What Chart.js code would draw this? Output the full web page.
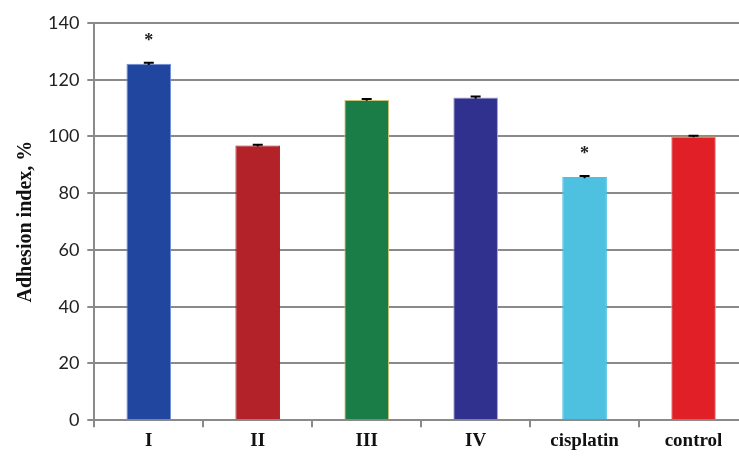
<!DOCTYPE html>
<html><head><meta charset="utf-8">
<script src="https://cdn.jsdelivr.net/npm/chart.js@4/dist/chart.umd.min.js"></script>
<style>html,body{margin:0;padding:0;overflow:hidden;background:#fff}#wrap{width:750px;height:464px}</style>
</head><body>
<div id="wrap"><canvas id="c" width="750" height="464"></canvas></div>
<script>
const categories = ['I', 'II', 'III', 'IV', 'cisplatin', 'control'];
const values = [125.6, 96.8, 112.9, 113.7, 85.7, 100.0];
const errors = [0.4, 0.3, 0.3, 0.4, 0.4, 0.3];
const marks = ['*', '', '', '', '*', ''];
const yTicks = [0, 20, 40, 60, 80, 100, 120, 140];
const colors = ['#2146a0', '#b22228', '#1a7c46', '#30308f', '#4dc1df', '#e01f27'];
const borderColors = ['#6f8fd8', '#a01c22', '#c9c27a', '#a89ad0', '#4dc1df', '#f0a030'];

const extras = {
  id: 'extras',
  afterDatasetsDraw(chart) {
    const ctx = chart.ctx;
    const y = chart.scales.y;
    const meta = chart.getDatasetMeta(0);
    ctx.save();
    meta.data.forEach((bar, i) => {
      const x = bar.x;
      const yHi = y.getPixelForValue(values[i] + errors[i]);
      const yLo = y.getPixelForValue(values[i] - errors[i]);
      ctx.strokeStyle = '#000';
      ctx.lineWidth = 2;
      ctx.beginPath();
      ctx.moveTo(x, yHi); ctx.lineTo(x, yLo);
      ctx.moveTo(x - 5, yHi); ctx.lineTo(x + 5, yHi);
      ctx.stroke();
      if (marks[i]) {
        ctx.fillStyle = '#222';
        ctx.font = 'bold 18px "Liberation Serif"';
        ctx.textAlign = 'center';
        ctx.textBaseline = 'middle';
        ctx.fillText(marks[i], x, y.getPixelForValue(values[i]) - 23);
      }
    });
    ctx.restore();
  }
};

new Chart(document.getElementById('c'), {
  type: 'bar',
  data: {
    labels: categories,
    datasets: [{
      data: values,
      backgroundColor: colors,
      borderColor: borderColors,
      borderWidth: 1,
      barPercentage: 0.41,
      categoryPercentage: 1.0
    }]
  },
  options: {
    responsive: false,
    animation: false,
    devicePixelRatio: 1,
    layout: { padding: { left: 14, right: 2, top: 23, bottom: 10 } },
    plugins: { legend: { display: false }, tooltip: { enabled: false } },
    scales: {
      x: {
        grid: { display: true, drawOnChartArea: false, drawTicks: true, tickLength: 7, color: '#8a8a8a', lineWidth: 2, offset: true },
        border: { display: true, color: '#8a8a8a', width: 2 },
        ticks: { color: '#111', font: { family: '"Liberation Serif"', size: 19, weight: 'bold' }, padding: 2 }
      },
      y: {
        min: 0, max: 140,
        afterBuildTicks(axis) { axis.ticks = yTicks.map(v => ({ value: v })); },
        grid: { color: '#8a8a8a', lineWidth: 2, tickLength: 7 },
        border: { display: true, color: '#8a8a8a', width: 2 },
        ticks: { color: '#222', font: { family: 'Lato', size: 18 }, padding: 8 },
        title: { display: true, text: 'Adhesion index, %', color: '#111', font: { family: '"Liberation Serif"', size: 20, weight: 'bold' }, padding: { top: 0, bottom: 2 } }
      }
    }
  },
  plugins: [extras]
});
</script>
</body></html>
